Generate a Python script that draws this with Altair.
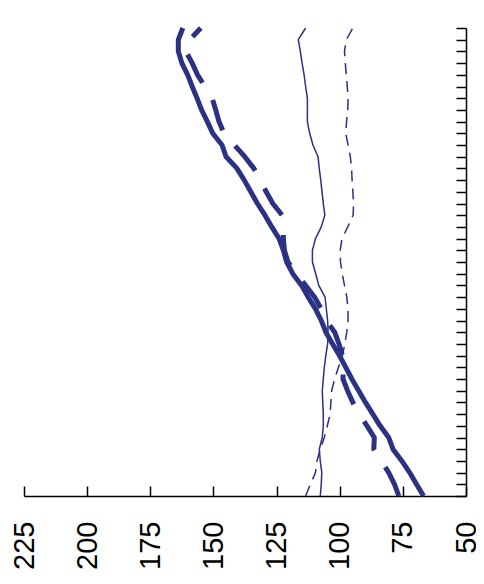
import altair as alt
import pandas as pd

idx = list(range(41))

thick_solid = [66.8, 69.6, 72.3, 75.4, 78.9, 80.6, 84.0, 86.9, 89.8, 92.5,
               95.2, 97.6, 100.1, 102.8, 105.5, 107.3, 109.6, 112.5, 115.1, 118.6,
               121.0, 122.3, 124.0, 126.9, 129.6, 132.6, 135.2, 137.8, 140.7, 145.0,
               146.6, 150.3, 152.4, 154.7, 156.5, 158.4, 160.2, 162.5, 163.9, 163.9,
               162.1]
thick_dashed = [76.6, 78.3, 80.6, 83.6, 86.5, 86.3, 89.2, 92.3, 94.8, 96.9,
                98.7, 98.6, 98.9, 100.3, 102.0, 105.3, 107.3, 110.0, 113.5, 117.2,
                120.5, 121.9, 122.3, 122.3, 122.8, 126.5, 129.1, 131.4, 134.0, 137.6,
                141.7, 145.8, 147.8, 149.1, 150.5, 153.4, 156.3, 158.4, 160.9, 159.4,
                155.0]
thin_solid = [107.7, 107.3, 107.1, 107.7, 108.1, 106.9, 106.5, 106.5, 106.7, 106.9,
              106.5, 106.1, 105.5, 104.8, 104.6, 104.8, 105.3, 105.8, 108.3, 109.5,
              110.8, 110.8, 109.6, 107.3, 105.9, 106.5, 107.0, 107.5, 108.1, 108.6,
              110.6, 111.9, 112.8, 112.8, 112.8, 113.5, 114.1, 114.9, 115.6, 116.4,
              113.5]
thin_dashed = [113.5, 111.6, 109.6, 109.0, 107.7, 106.1, 104.9, 103.8, 103.5, 103.2,
               102.0, 100.5, 98.9, 98.0, 97.2, 96.7, 96.7, 97.2, 98.1, 99.0,
               99.7, 99.8, 99.1, 96.8, 94.7, 94.5, 94.8, 95.1, 95.3, 95.8,
               96.7, 97.6, 97.3, 96.8, 96.7, 97.0, 97.4, 97.8, 98.1, 97.4,
               94.8]

x_ticks = [225, 200, 175, 150, 125, 100, 75, 50]

COLOR = "#2b3183"
W, H = 442, 468

rows = []
for name, vals in [("thick_solid", thick_solid), ("thick_dashed", thick_dashed),
                   ("thin_solid", thin_solid), ("thin_dashed", thin_dashed)]:
    for i, v in zip(idx, vals):
        rows.append({"series": name, "idx": i, "value": v})
df = pd.DataFrame(rows)

xscale = alt.Scale(domain=[50, 225], reverse=True, nice=False, zero=False)
yscale = alt.Scale(domain=[0, 40], nice=False, zero=False)

label_axis = alt.Axis(orient="bottom", values=x_ticks, labelAngle=-90, labelFontSize=29,
                      labelFont="Liberation Sans", labelColor="black", labelPadding=25,
                      ticks=False, tickSize=0, domain=True, domainColor="black",
                      domainWidth=1.5, grid=False, title=None, labelFlush=False,
                      labelOverlap=False)
tick_axis = alt.Axis(orient="top", offset=-H, values=x_ticks, labels=False, ticks=True,
                     tickSize=10, tickColor="black", tickWidth=1.5, domain=False,
                     grid=False, title=None)
y_axis = alt.Axis(orient="left", offset=-W, values=idx, labels=False, ticks=True,
                  tickSize=10, tickColor="black", tickWidth=1.5, domain=True,
                  domainColor="black", domainWidth=1.5, grid=False, title=None)


def layer(name, xaxis, yaxis, width, dash):
    mark_kwargs = dict(color=COLOR, strokeWidth=width, strokeCap="butt", strokeJoin="round")
    if dash:
        mark_kwargs["strokeDash"] = dash
    return alt.Chart(df).transform_filter(alt.datum.series == name).mark_line(**mark_kwargs).encode(
        x=alt.X("value:Q", scale=xscale, axis=xaxis),
        y=alt.Y("idx:Q", scale=yscale, axis=yaxis),
        order="idx:Q",
    )


chart = alt.layer(
    layer("thin_dashed", None, None, 1.5, [11, 7]),
    layer("thin_solid", tick_axis, None, 1.5, None),
    layer("thick_dashed", None, None, 5, [32, 20]),
    layer("thick_solid", label_axis, y_axis, 5, None),
).resolve_axis(x="independent", y="independent").properties(
    width=W, height=H,
    autosize=alt.AutoSizeParams(type="none"),
    padding={"left": 16, "top": 20, "right": 10, "bottom": 74},
).configure_view(stroke=None)

chart.save("out.html", embed_options={"renderer": "svg", "actions": False})
